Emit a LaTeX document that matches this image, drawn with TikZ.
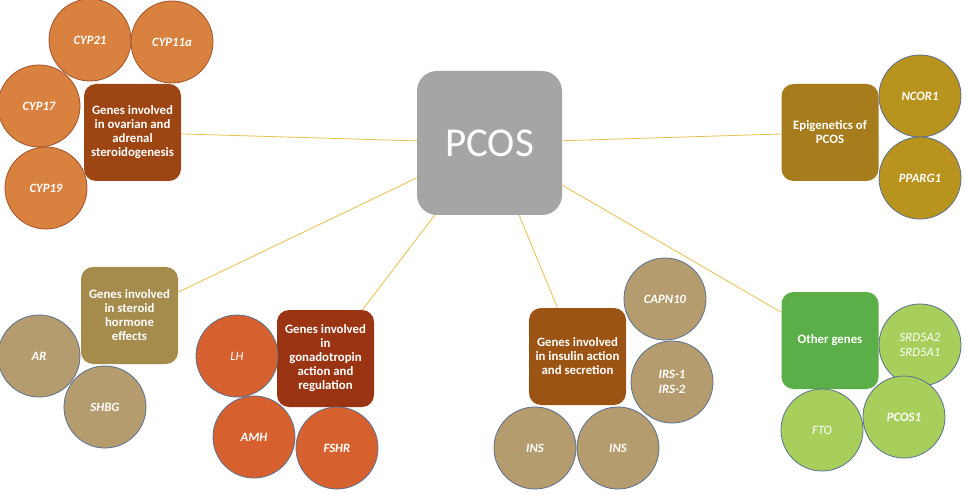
\documentclass[tikz,border=0pt]{standalone}
\usepackage{fontspec}
\setmainfont{Carlito}
\begin{document}
\begin{tikzpicture}[x=1pt,y=-1pt,
  hub/.style={rectangle,rounded corners=20pt,fill=pcosgray,minimum width=145pt,minimum height=144pt,inner sep=0pt,text=white,font=\fontsize{41}{44}\selectfont},
  grp/.style={rectangle,rounded corners=12pt,minimum width=97pt,minimum height=97pt,inner sep=1pt,text=white,align=center,font=\bfseries\fontsize{12.8}{14}\selectfont},
  gene/.style={circle,minimum size=82pt,inner sep=0pt,draw=bluegray,line width=0.8pt,text=white,align=center,font=\bfseries\itshape\fontsize{12.7}{15.5}\selectfont},
  genel/.style={gene,font=\itshape\fontsize{12.7}{15.5}\selectfont},
  link/.style={draw=linkgold,line width=0.8pt}]
\definecolor{pcosgray}{HTML}{A5A5A5}
\definecolor{bluegray}{HTML}{5A7090}
\definecolor{linkgold}{HTML}{E8C04A}
\definecolor{ovbox}{HTML}{9E4514}
\definecolor{ovcirc}{HTML}{D9813F}
\definecolor{ovedge}{HTML}{A0522D}
\definecolor{stbox}{HTML}{A58C4D}
\definecolor{tancirc}{HTML}{B49C6E}
\definecolor{gnbox}{HTML}{9A3412}
\definecolor{gncirc}{HTML}{D6612E}
\definecolor{inbox}{HTML}{9C5414}
\definecolor{epbox}{HTML}{A67C1D}
\definecolor{epcirc}{HTML}{B8941E}
\definecolor{otbox}{HTML}{5CAF48}
\definecolor{otcirc}{HTML}{A8CF5B}
\useasboundingbox (0,0) rectangle (966,494);
\fill[white] (0,0) rectangle (966,494);
% hub
\node[hub] (pcos) at (489.5,143) {PCOS};
% group boxes
\node[grp,fill=ovbox] (ovar) at (132.5,132.5) {Genes involved\\in ovarian and\\adrenal\\steroidogenesis};
\node[grp,fill=stbox] (ster) at (129.5,315.5) {Genes involved\\in steroid\\hormone\\effects};
\node[grp,fill=gnbox] (gona) at (325.5,358.5) {Genes involved\\in\\gonadotropin\\action and\\regulation};
\node[grp,fill=inbox] (insu) at (577.5,356.5) {Genes involved\\in insulin action\\and secretion};
\node[grp,fill=epbox] (epig) at (830,132.5) {Epigenetics of\\PCOS};
\node[grp,fill=otbox] (othr) at (830,340.5) {Other genes};
% links
\draw[link] (ovar) -- (pcos);
\draw[link] (ster) -- (pcos);
\draw[link] (gona) -- (pcos);
\draw[link] (insu) -- (pcos);
\draw[link] (epig) -- (pcos);
\draw[link] (othr) -- (pcos);
% ovarian cluster
\node[gene,fill=ovcirc,draw=ovedge] (cyp21) at (90,40) {CYP21};
\node[gene,fill=ovcirc,draw=ovedge] (cyp11) at (172,42) {CYP11a};
\node[gene,fill=ovcirc,draw=ovedge] (cyp17) at (39,106) {CYP17};
\node[gene,fill=ovcirc,draw=ovedge] (cyp19) at (46,188) {CYP19};
% steroid cluster
\node[gene,fill=tancirc] (ar) at (39,356) {AR};
\node[gene,fill=tancirc] (shbg) at (105,407) {SHBG};
% gonadotropin cluster
\node[genel,fill=gncirc] (lh) at (237,356) {LH};
\node[gene,fill=gncirc] (amh) at (254,437) {AMH};
\node[gene,fill=gncirc] (fshr) at (337,448) {FSHR};
% insulin cluster
\node[gene,fill=tancirc] (capn) at (665,299) {CAPN10};
\node[gene,fill=tancirc] (irs) at (672,382) {IRS-1\\IRS-2};
\node[gene,fill=tancirc] (ins1) at (535,448) {INS};
\node[gene,fill=tancirc] (ins2) at (618,448) {INS};
% epigenetics cluster
\node[gene,fill=epcirc] (ncor) at (920,96) {NCOR1};
\node[gene,fill=epcirc] (pparg) at (920,178) {PPARG1};
% other cluster
\node[genel,fill=otcirc] (srd) at (920,345) {SRD5A2\\SRD5A1};
\node[genel,fill=otcirc] (fto) at (822,430) {FTO};
\node[gene,fill=otcirc] (pcos1) at (904,417) {PCOS1};
\end{tikzpicture}
\end{document}
